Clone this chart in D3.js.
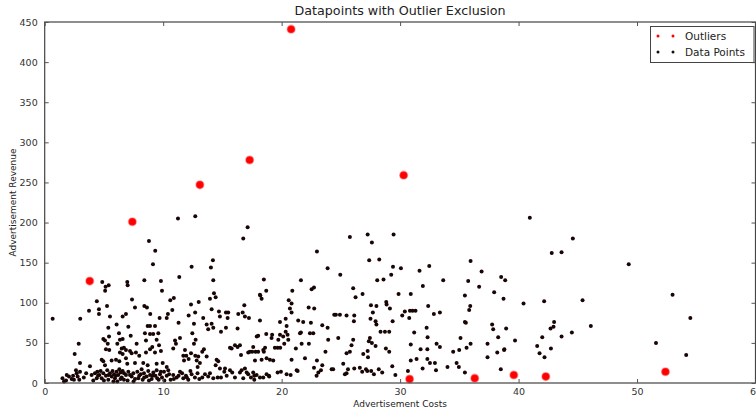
<!DOCTYPE html>
<html>
<head>
<meta charset="utf-8">
<script src="https://cdn.jsdelivr.net/npm/d3@7"></script>
<style>
  html, body { margin: 0; padding: 0; background: #fff; }
  svg { display: block; font-family: "DejaVu Sans", sans-serif; }
</style>
</head>
<body>
<svg id="chart" width="756" height="408"></svg>
<script>
// Axis ticks
const xTicks = [0, 10, 20, 30, 40, 50, 60];
const yTicks = [0, 50, 100, 150, 200, 250, 300, 350, 400, 450];

// Points flagged as outliers: [cost, revenue]
const outliers = [
  [3.8, 127], [7.4, 201], [13.1, 247], [17.3, 278], [20.8, 441], [30.3, 259],
  [30.8, 5], [36.3, 6], [39.6, 10], [42.3, 8], [52.4, 14]
];

// Remaining data points: [cost, revenue]
const dataPoints = [
  [0.67,80],[5.1,115],[3.74,90],[4.4,102],[4.58,92],[4.58,86],[3.0,80],[5.26,96],[5.51,83],[6.07,73],
  [5.37,69],[6.58,83],[6.86,86],[7.37,104],[7.62,94],[7.06,70],[8.41,96],[8.63,94],[8.91,86],[9.9,115],
  [10.9,106],[10.6,103],[9.7,81],[10.3,81],[10.4,86],[10.77,91],[11.3,75],[12.15,84],[12.35,98],[12.7,88],[13,101],
  [2.87,49],[2.53,36],[2.98,25],[4.95,55],[5.09,53],[5.43,58],[5.32,49],[5.17,42],[5.45,41],[6.27,62],
  [6.35,54],[6.58,55],[6.13,49],[6.5,43],[6.69,44],[6.35,38],[6.58,36],[6.86,41],[7.2,40],[7.34,37],
  [7.7,38],[7.98,34],[7.26,59],[7.76,49],[8.69,71],[8.89,71],[9.31,71],[9.16,61],[8.89,61],[8.46,62],
  [9.59,62],[9.65,47],[9.45,54],[9.08,45],[8.89,42],[8.55,38],[9.31,38],[9.81,40],[8.55,53],[11,53],
  [11.08,49],[10.85,43],[12.74,54],[12.6,49],[12.46,62],[12.71,34],[12.35,37],[11.7,34],[11.95,34],[12.15,30],
  [11.76,28],[12.83,28],[12.96,33],
  [3.82,21],[4.81,29],[4.95,27],[5.65,28],[6.02,29],[6.3,27],[6.86,31],[6.97,24],[7.62,25],[8.32,25],
  [8.69,22],[9.45,24],[9.96,25],[10.3,20],
  [1.5,6],[1.63,2],[1.86,10],[2.05,8],[2.28,5],[2.47,4],[2.64,16],[2.7,12],[2.78,8],[2.92,4],
  [2.98,14],[3.96,10],[4.24,12],[4.39,6],[4.44,14],[4.61,10],[4.72,15],[4.81,6],[4.95,12],[5.09,22],
  [5.17,9],[5.28,16],[5.37,4],[5.51,12],[5.65,8],[5.73,15],[5.85,11],[5.93,6],[6.07,14],[6.13,2],
  [6.21,10],[6.3,17],[6.41,13],[6.5,7],[6.58,15],[6.69,4],[6.86,10],[7.06,14],[7.34,8],[7.48,12],
  [7.62,5],[7.82,14],[7.98,9],[8.18,17],[8.27,4],[8.38,12],[8.6,8],[8.74,15],[8.89,10],[9.03,5],
  [9.17,13],[9.34,9],[9.45,16],[9.62,4],[9.73,11],[9.9,7],[10.07,14],[10.3,9],[10.43,16],[10.63,4],
  [10.85,10],[11.14,7],[11.42,14],[11.7,6],[11.92,9],[12.12,4],[12.4,11],[12.68,7],[13.05,5],
  [4.1,3],[4.5,9],[5.0,3],[5.4,10],[5.8,2],[6.0,9],[6.4,5],[6.7,12],[7.0,3],[7.2,10],
  [7.5,2],[7.9,6],[8.1,11],[8.4,7],[8.8,3],[9.1,9],[9.5,6],[9.8,14],[10.1,3],[10.5,11],
  [10.9,5],[11.3,9],[11.6,12],[12.0,7],[12.3,15],[12.9,12],[3.3,7],[3.5,12],[2.4,9],[1.8,3],
  [11.42,56],[11.84,41],[12.6,74],
  [13.95,105],[14.43,107],[14.09,92],[13.38,81],[14.71,89],[14.79,83],[15.3,88],[15.49,88],[15.44,81],[13.67,73],
  [14.09,74],[14.23,69],[13.8,67],[14.88,64],[15.3,69],[16.34,86],[16.71,88],[16.85,97],[16.9,83],[17.24,81],
  [16.28,68],[18.17,110],[18.31,105],[18.17,78],[19.86,76],[20.34,80],[20.42,71],[20.84,99],[20.7,93],[20.84,88],
  [21.4,78],[21.82,76],[22.47,75],[22.28,94],[22.75,93],[23.43,72],[23.88,69],[24.44,85],[24.58,85],[24.92,85],
  [25.48,84],[26.13,84],[24.78,56],[25.9,47],[25.76,39],[25.48,37],[26.04,54],[23.93,54],[23.7,39],[19.72,54],
  [20.13,58],[20.22,49],[20.56,54],[20.34,64],[20.5,60],[19.86,60],[19.2,60],[19.15,56],[18.02,59],[17.9,58],
  [18.7,61],[17.6,45],[17.8,39],[18.02,39],[18.45,41],[18.5,39],[18.6,44],[19.43,44],[19.66,44],[19.88,44],
  [21.2,43],[21.69,49],[22.3,49],[21.55,62],[21.63,63],[22.39,62],[22.67,62],[20.84,29],[21.97,31],[22.98,28],
  [23.43,22],[23.32,16],[22.73,19],[23.1,13],[24.22,17],[24.35,17],[25.2,24],[25.6,17],[25.48,12],[21.27,16],
  [21.35,15],[19.94,14],[19.66,13],[18.93,9],[18.31,29],[18.73,31],[19.01,29],[19.29,28],[17.75,28],[17.18,38],
  [17.32,39],[17.52,39],[16.57,35],[15.78,43],[15.64,44],[16.06,47],[16.28,45],[16.48,47],[13.3,39],[13.44,42],
  [13.67,33],[13.1,25],[12.91,20],[14.51,29],[14.65,27],[14.79,18],[14.43,22],[15.16,14],[15.22,18],[15.64,16],
  [15.83,13],[16.48,13],[16.62,16],[16.9,18],[17.05,13],[17.18,11],[17.6,13],[17.69,9],[17.89,10],[18.17,7],
  [17.69,4],[13.53,11],[13.8,8],[13.95,12],[14.23,6],[14.6,7],[14.88,7],[15.36,9],[16.06,7],[16.76,6],
  [17.41,7],[18.73,11],[13.3,7],
  [4.86,126],[5.14,120],[5.4,122],[6.97,126],[7.0,122],[8.41,128],[8.8,177],[9.33,165],[9.14,148],[9.81,127],
  [11.25,205],[11.36,132],[12.71,208],[12.4,145],[14.03,144],[14.2,153],[14.23,128],[14.29,112],[16.76,180],[17.13,194],
  [18.5,129],[18.7,115],[20.9,115],[21.63,128],[22.53,117],[22.73,119],[22.98,164],[23.88,143],[24.95,135],[25.76,182],
  [26.04,118],
  [27.26,185],[27.62,175],[29.45,185],[27.39,153],[28.24,154],[29.4,145],[30.07,143],[31.64,140],[32.46,146],[31.92,121],
  [18.2,109],[20.6,103],[26.24,107],[26.83,111],[27.54,97],[28.0,96],[28.83,101],[29.14,93],[28.07,128],[28.6,129],
  [29.25,135],[29.87,111],[30.9,111],[32.37,96],
  [40.95,206],[44.58,180],[42.8,162],[43.63,163],[35.95,152],[36.88,139],[33.64,128],[35.75,127],[36.67,120],[38.53,132],
  [38.87,128],[35.47,109],[37.94,113],[38.73,105],[35.92,96],[40.42,99],[42.16,102],[45.4,103],
  [54.5,81],[46.1,71],[44.5,63],[43.63,58],[43.0,76],[42.95,70],[42.7,68],[42.0,57],[38.95,68],[39.7,53],
  [38.8,42],[41.57,46],[42.73,43],[41.77,37],[42.19,32],[38.5,17],[51.6,50],[54.15,35],[49.3,148],[53.0,110],
  [28.86,98],[27.7,88],[30.18,84],[30.4,89],[30.77,81],[30.83,90],[31.05,90],[31.3,90],[32.85,86],[33.36,88],
  [35.83,91],[26.1,77],[27.5,80],[27.93,77],[28.0,73],[29.37,77],[28.35,64],[28.72,64],[29.08,64],[31.19,63],
  [32.24,69],[32.32,57],[35.47,76],[35.55,75],[37.77,73],[37.86,67],[38.28,57],[35.1,56],[27.45,56],[27.36,52],
  [27.62,50],[27.93,46],[28.8,43],[29.08,39],[30.9,48],[31.73,42],[32.3,42],[33.08,49],[33.36,45],[34.48,39],
  [34.99,41],[35.61,44],[35.95,49],[37.38,49],[38.2,38],[38.78,41],[37.38,32],[26.89,36],[27.26,40],[27.29,32],
  [30.9,28],[31.39,30],[31.9,18],[32.3,30],[32.52,25],[32.94,25],[33.03,16],[34.0,20],[34.77,25],[34.96,20],
  [35.47,13],[29.34,21],[29.6,10],[30.66,15],[28.49,13],[28.2,17],[27.79,11],[27.56,15],[27.23,15],[27.12,17],
  [26.8,14],[26.6,19],[26.13,18],
  [18.45,7],[18.95,8],[20.42,11],[20.76,10],[22.95,9],[25.34,11]
];

const svg = d3.select("#chart");
const W = 756, H = 408;
const margin = { left: 44.7, right: 0.5, top: 22, bottom: 25 };
const plotL = margin.left, plotR = W - margin.right;
const plotT = margin.top, plotB = H - margin.bottom;

const x = d3.scaleLinear().domain([0, 60]).range([plotL, plotR]);
const y = d3.scaleLinear().domain([0, 450]).range([plotB, plotT]);

const axisColor = "#333";
const tickLen = 4;

// Data points
svg.append("g")
  .selectAll("circle")
  .data(dataPoints)
  .join("circle")
  .attr("cx", d => x(d[0]))
  .attr("cy", d => y(d[1]))
  .attr("r", 2)
  .attr("fill", "#1a0505");

// Outliers
svg.append("g")
  .selectAll("circle")
  .data(outliers)
  .join("circle")
  .attr("cx", d => x(d[0]))
  .attr("cy", d => y(d[1]))
  .attr("r", 3.8)
  .attr("fill", "#ff0000")
  .attr("stroke", "rgba(255,60,60,0.45)")
  .attr("stroke-width", 1.6);

// Frame
svg.append("rect")
  .attr("x", plotL).attr("y", plotT)
  .attr("width", plotR - plotL).attr("height", plotB - plotT)
  .attr("fill", "none").attr("stroke", "#444").attr("stroke-width", 1.2);

// Bottom / top axes with inward ticks
const xAxisB = d3.axisBottom(x).tickValues(xTicks).tickSizeInner(-tickLen).tickSizeOuter(0).tickPadding(5);
const gxb = svg.append("g").attr("transform", `translate(0,${plotB})`).call(xAxisB);
const xAxisT = d3.axisTop(x).tickValues(xTicks).tickSizeInner(-tickLen).tickSizeOuter(0).tickFormat("");
const gxt = svg.append("g").attr("transform", `translate(0,${plotT})`).call(xAxisT);

// Left / right axes with inward ticks
const yAxisL = d3.axisLeft(y).tickValues(yTicks).tickSizeInner(-tickLen).tickSizeOuter(0).tickPadding(7);
const gyl = svg.append("g").attr("transform", `translate(${plotL},0)`).call(yAxisL);
const yAxisR = d3.axisRight(y).tickValues(yTicks).tickSizeInner(-tickLen).tickSizeOuter(0).tickFormat("");
const gyr = svg.append("g").attr("transform", `translate(${plotR},0)`).call(yAxisR);

[gxb, gxt, gyl, gyr].forEach(g => {
  g.select(".domain").remove();
  g.selectAll(".tick line").attr("stroke", "#555");
  g.selectAll("text")
    .attr("fill", axisColor)
    .style("font-family", "DejaVu Sans, sans-serif")
    .style("font-size", "9.5px");
});

// Title and axis labels
svg.append("text")
  .attr("x", (plotL + plotR) / 2).attr("y", 14.5)
  .attr("text-anchor", "middle")
  .attr("fill", "#222")
  .style("font-size", "12.7px")
  .text("Datapoints with Outlier Exclusion");

svg.append("text")
  .attr("x", (plotL + plotR) / 2).attr("y", 407)
  .attr("text-anchor", "middle")
  .attr("fill", "#222")
  .style("font-size", "9px")
  .text("Advertisement Costs");

svg.append("text")
  .attr("transform", `translate(16,${(plotT + plotB) / 2}) rotate(-90)`)
  .attr("text-anchor", "middle")
  .attr("fill", "#222")
  .style("font-size", "9px")
  .text("Advertisement Revenue");

// Legend
const legend = svg.append("g");
legend.append("rect")
  .attr("x", 650.5).attr("y", 26.5).attr("width", 103.5).attr("height", 36)
  .attr("fill", "#fff").attr("stroke", "#444").attr("stroke-width", 1);

const legendItems = [
  { label: "Outliers", color: "#ff0000", cy: 36 },
  { label: "Data Points", color: "#111", cy: 52 }
];
legendItems.forEach(item => {
  [658, 673].forEach(cx => {
    legend.append("circle").attr("cx", cx).attr("cy", item.cy).attr("r", 1.5).attr("fill", item.color);
  });
  legend.append("text")
    .attr("x", 685).attr("y", item.cy + 3.8)
    .attr("fill", "#222")
    .style("font-size", "10.5px")
    .text(item.label);
});
</script>
</body>
</html>
